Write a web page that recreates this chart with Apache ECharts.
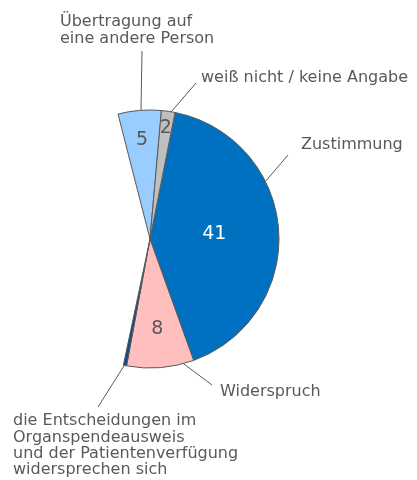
<!DOCTYPE html>
<html style="height: 100%">
<head>
    <meta charset="utf-8">
    <script src="https://cdn.jsdelivr.net/npm/echarts@6/dist/echarts.min.js"></script>
</head>
<body style="height: 100%; margin: 0">
    <div id="main" style="width: 417px; height: 480px"></div>
    <script type="text/javascript">
        // Kategorien, im Uhrzeigersinn ab "Zustimmung"
        var categories = [
            'Zustimmung',
            'Widerspruch',
            'die Entscheidungen im\nOrganspendeausweis\nund der Patientenverfügung\nwidersprechen sich',
            'nicht dargestellt',
            'Übertragung auf\neine andere Person',
            'weiß nicht / keine Angabe'
        ];
        // Anteile, der Rest bleibt leer
        var values = [41.4, 8.4, 0.4, 42.7, 5.4, 1.7];
        var colors = ['#0070c0', '#ffbfbf', '#0b4a8c', 'rgba(0,0,0,0)', '#99ccff', '#bfbfbf'];
        var hidden = [false, false, false, true, false, false];

        // Beschriftungen: Position (links, oben)
        var labelPos = [[301, 137], [220, 384], [13, 413], null, [60, 14], [201, 70]];
        // Führungslinien: Winkel am Rand (Grad, ab 12 Uhr im Uhrzeigersinn) und Endpunkt
        var lineAngle = [63.5, 165, 191.5, null, 356, 9.5];
        var lineEnd = [[288, 155], [212, 385], [98, 407], null, [142, 51], [196, 83]];
        // Zahlen in den Segmenten: Abstand vom Mittelpunkt (Anteil vom Radius)
        var valuePos = [0.5, 0.7, null, null, 0.77, 0.87];
        var valueColor = ['#ffffff', '#595959', '#595959', '#595959', '#595959', '#595959'];

        var cx = 150, cy = 239, r = 129;
        var startAngle = 78.8;
        var textColor = '#595959';
        var font = 'DejaVu Sans';

        var total = values.reduce(function (a, b) { return a + b; }, 0);
        function edgePoint(deg, rr) {
            var a = deg * Math.PI / 180;
            return [cx + rr * Math.sin(a), cy - rr * Math.cos(a)];
        }
        function midAngle(i) {
            var before = 0;
            for (var j = 0; j < i; j++) before += values[j];
            return (90 - startAngle) + (before + values[i] / 2) / total * 360;
        }

        var sliceData = categories.map(function (name, i) {
            var item = {
                name: name,
                value: values[i],
                itemStyle: { color: colors[i] }
            };
            if (hidden[i]) {
                item.itemStyle.borderWidth = 0;
                item.label = { show: false };
                item.labelLine = { show: false };
            }
            return item;
        });

        var valueData = categories.map(function (name, i) {
            return {
                name: name,
                value: values[i],
                label: { show: valuePos[i] != null, color: valueColor[i] }
            };
        });

        var myChart = echarts.init(document.getElementById('main'));

        var option = {
            animation: false,
            series: [
                {
                    type: 'pie',
                    center: [cx, cy],
                    radius: r,
                    startAngle: startAngle,
                    clockwise: true,
                    avoidLabelOverlap: false,
                    silent: true,
                    emphasis: { disabled: true },
                    data: sliceData,
                    itemStyle: { borderColor: '#595959', borderWidth: 1 },
                    label: {
                        position: 'outside',
                        formatter: '{b}',
                        color: textColor,
                        fontFamily: font,
                        fontSize: 16,
                        lineHeight: 16.3
                    },
                    labelLine: {
                        show: true,
                        length: 20,
                        length2: 0,
                        lineStyle: { color: '#595959', width: 1 }
                    },
                    labelLayout: function (p) {
                        var i = p.dataIndex;
                        var pos = labelPos[i];
                        if (!pos) return {};
                        var s = edgePoint(lineAngle[i], r);
                        var e = lineEnd[i];
                        return {
                            x: pos[0], y: pos[1], align: 'left', verticalAlign: 'top',
                            labelLinePoints: [s, e, e]
                        };
                    }
                },
                {
                    // nur die Zahlen in den Segmenten
                    type: 'pie',
                    center: [cx, cy],
                    radius: r,
                    startAngle: startAngle,
                    clockwise: true,
                    avoidLabelOverlap: false,
                    silent: true,
                    emphasis: { disabled: true },
                    data: valueData,
                    itemStyle: { color: 'rgba(0,0,0,0)', borderWidth: 0 },
                    label: {
                        position: 'inside',
                        formatter: function (p) { return Math.round(p.value); },
                        fontFamily: font,
                        fontSize: 19
                    },
                    labelLine: { show: false },
                    labelLayout: function (p) {
                        var f = valuePos[p.dataIndex];
                        if (f == null) return {};
                        var pt = edgePoint(midAngle(p.dataIndex), f * r);
                        return { x: pt[0], y: pt[1], align: 'center', verticalAlign: 'middle' };
                    }
                }
            ]
        };

        myChart.setOption(option);
    </script>
</body>
</html>
